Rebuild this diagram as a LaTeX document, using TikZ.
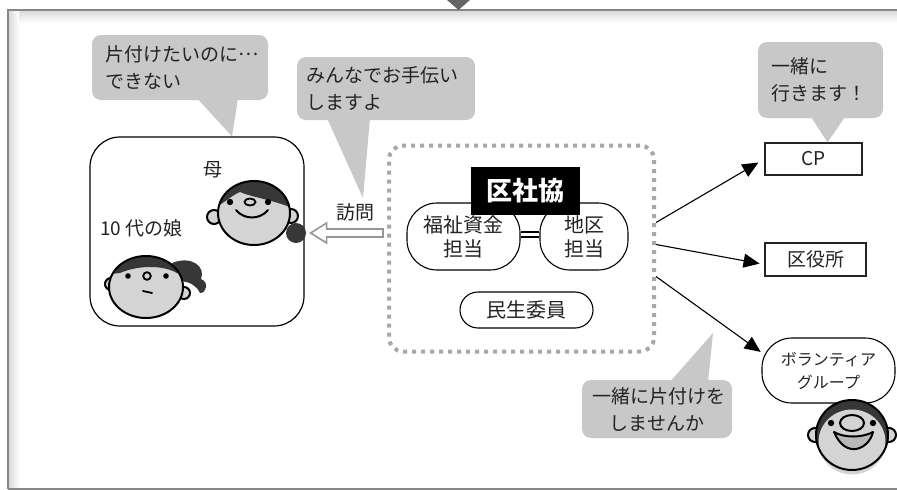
\documentclass[tikz,border=0pt]{standalone}
\usepackage{fontspec}
\setmainfont{Noto Sans CJK JP}
\usepackage{tikz}
\usetikzlibrary{arrows.meta, positioning, calc}

\definecolor{bubblegray}{RGB}{200,200,200}
\definecolor{framegray}{RGB}{135,135,135}
\definecolor{dotgray}{RGB}{168,168,168}
\definecolor{arrowgray}{RGB}{150,150,150}
\definecolor{facegray}{RGB}{212,212,212}
\definecolor{hairgray}{RGB}{55,55,55}
\definecolor{inkgray}{RGB}{35,35,35}

% ellipsis set at mid height
\newcommand{\middots}{\raisebox{0.33em}{…}}

\tikzset{
  talk/.style={rectangle, rounded corners=9pt, fill=bubblegray, text=inkgray,
               align=left, inner xsep=13pt, inner ysep=0pt, font=\fontsize{19}{27}\selectfont},
  pill/.style={rectangle, draw=black, line width=1.1pt, fill=white, text=inkgray,
               align=center, inner sep=0pt, font=\fontsize{20}{24}\selectfont},
  boxed/.style={rectangle, draw=inkgray, line width=1.1pt, fill=white, text=inkgray,
                inner sep=0pt, font=\fontsize{19}{24}\selectfont},
  lbl/.style={text=inkgray, inner sep=0pt, font=\fontsize{19}{24}\selectfont},
  arrow/.style={-{Triangle[length=16pt,width=14pt]}, line width=1.1pt},
  hollow/.style={draw=arrowgray, line width=1.6pt, fill=white, line join=miter},
  tail/.style={fill=bubblegray},
  faceline/.style={draw=black, line width=2pt, fill=facegray},
  hair/.style={fill=hairgray},
}

\begin{document}
\begin{tikzpicture}[x=1pt, y=-1pt]
  \useasboundingbox (0,0) rectangle (897,490);

  % page frame
  \shade[top color=gray!28, bottom color=white] (9,11) rectangle (897,23);
  \shade[left color=gray!28, right color=white] (9,11) rectangle (19,488);
  \draw[framegray, line width=2.5pt] (897,10) -- (8,10) -- (8,489);
  \draw[framegray, line width=1.5pt] (8,489) -- (897,489);
  \fill[framegray!75!black] (447,0) -- (470,0) -- (458.5,10) -- cycle;

  % family
  \node[draw=black, line width=1.2pt, rounded corners=30pt,
        minimum width=214pt, minimum height=189pt] (family) at (197,231.5) {};
  \node[lbl] (mother) at (213,170) {母};
  \node[lbl, anchor=west] (daughter) at (100,228) {10 代の娘};

  % mother
  \begin{scope}[shift={(254,213)}]
    \draw[faceline] (-40,4) circle (7);
    \draw[faceline] (37,3) circle (7);
    \fill[hair] (42,20) circle (10);
    \fill[facegray] (0,0) ellipse (36 and 32);
    \begin{scope}
      \clip (0,0) ellipse (36 and 32);
      \fill[hair] (-45,-2) .. controls (-32,-8) and (-22,-18) .. (-14,-21)
        .. controls (0,-15) and (22,-13) .. (45,-2) -- (45,-45) -- (-45,-45) -- cycle;
    \end{scope}
    \draw[black, line width=2pt] (0,0) ellipse (36 and 32);
    \fill (-24,-11) circle (3.2);
    \fill (14,-11) circle (3.2);
    \draw[line width=1.8pt] (-4,-11) ellipse (5.5 and 3.5);
    \draw[line width=2pt, line cap=round] (-18,-3) .. controls (-10,7) and (6,7) .. (14,-3);
  \end{scope}

  % daughter
  \begin{scope}[shift={(146,287)}]
    \draw[faceline] (-35,-3) circle (6);
    \draw[faceline] (38,6) circle (6);
    \fill[hair] (26,-24) .. controls (46,-32) and (60,-20) .. (55,-8)
      .. controls (63,-5) and (61,6) .. (54,6) .. controls (50,-2) and (44,-5) .. (34,-6) -- cycle;
    \fill[facegray] (0,0) ellipse (37 and 31);
    \begin{scope}
      \clip (0,0) ellipse (37 and 31);
      \fill[hair] (-45,-12) -- (-26,-14) .. controls (-10,-21) and (15,-23) .. (31,-14)
        -- (45,-8) -- (45,-45) -- (-45,-45) -- cycle;
    \end{scope}
    \draw[black, line width=2pt] (0,0) ellipse (37 and 31);
    \fill (-18,-11) circle (2.8);
    \fill (20,-11) circle (2.8);
    \draw[line width=1.8pt] (1,-11) circle (3.8);
    \draw[line width=1.8pt, line cap=round] (-3,4) -- (6,6);
  \end{scope}

  % ward council
  \node[draw=dotgray, line width=4pt, dash pattern=on 4pt off 5pt, rounded corners=14pt,
        minimum width=265pt, minimum height=206pt] (org) at (521.5,248.5) {};
  \node[pill, minimum width=113pt, minimum height=67pt, rounded corners=30pt]
    (fukushi) at (463.5,236.5) {福祉資金\\担当};
  \node[pill, minimum width=88pt, minimum height=67pt, rounded corners=30pt]
    (chiku) at (584,236.5) {地区\\担当};
  \draw[double, double distance=3pt, line width=1.6pt]
    ([yshift=2pt]fukushi.east) -- ([yshift=2pt]chiku.west);
  \node[fill=black, text=white, inner sep=0pt, font=\fontsize{26}{26}\selectfont\bfseries,
        minimum width=109pt, minimum height=48pt] (kushakyo) at (525.5,191) {区社協};
  \node[pill, minimum width=133pt, minimum height=36pt, rounded corners=18pt]
    (minsei) at (526.5,310) {民生委員};

  % visit arrow
  \draw[hollow] ($(family.east)+(6,1.5)$) coordinate (vtip) -- ++(16,-10) -- ++(0,6)
    -- ($(org.west |- vtip)+(-4,-4)$) -- ++(0,8) -- ($(vtip)+(16,4)$) -- ++(0,6) -- cycle;
  \node[lbl] (visitlbl) at (355,212) {訪問};

  % partners
  \node[boxed, minimum width=97pt, minimum height=32pt] (cp) at (813.5,159) {CP};
  \node[boxed, minimum width=101pt, minimum height=33pt] (kuyaku) at (815.5,259.5) {区役所};
  \node[pill, font=\fontsize{16}{23}\selectfont, minimum width=133pt, minimum height=65pt,
        rounded corners=30pt] (vol) at (828.5,370.5) {ボランティア\\グループ};

  \draw[arrow, shorten >=7pt] ([yshift=26pt]org.east) -- (cp.west);
  \draw[arrow, shorten >=5pt] ([yshift=4pt]org.east) -- ([yshift=-5pt]kuyaku.west);
  \draw[arrow, shorten >=1pt] ([yshift=-28pt]org.east) -- ([yshift=18pt]vol.west);

  % volunteer
  \begin{scope}[shift={(852,435)}]
    \draw[faceline] (-37,0) circle (7);
    \draw[faceline] (37,0) circle (7);
    \fill[hair] (0,0) ellipse (36 and 35);
    \fill[facegray] (0,7) ellipse (33.5 and 32.5);
    \draw[black, line width=2pt] (0,0) ellipse (36 and 35);
    \fill (-21,-12) circle (3.2);
    \fill (21,-12) circle (3.2);
    \draw[faceline, fill=gray!55, line join=round] (-18,-3) .. controls (-8,3) and (10,3) .. (21,-3)
      .. controls (17,14) and (-6,25) .. (-18,-3) -- cycle;
    \draw[faceline] (0,-12) ellipse (12 and 8);
  \end{scope}

  % speech bubbles
  \node[talk, text width=150pt, minimum height=65pt] (talk1) at (180,67.5)
    {片付けたいのに\middots\\できない};
  \fill[tail] ([shift={(17pt,2pt)}]talk1.south) -- ([xshift=35pt]family.north)
    -- ([shift={(58pt,2pt)}]talk1.south) -- cycle;

  \node[talk, text width=160pt, inner xsep=9pt, minimum height=63pt] (talk2) at (386,88.5)
    {みんなでお手伝い\\しますよ};
  \fill[tail] ([shift={(-59pt,2pt)}]talk2.south) -- ([shift={(8pt,5pt)}]visitlbl.north)
    -- ([shift={(-16pt,2pt)}]talk2.south) -- cycle;

  \node[talk, text width=99pt, minimum height=76pt] (talk3) at (820.5,80)
    {一緒に\\行きます！};
  \fill[tail] ([shift={(-10pt,2pt)}]talk3.south) -- ([xshift=14pt]cp.north)
    -- ([shift={(25pt,2pt)}]talk3.south) -- cycle;

  \coordinate (hint) at (713,333);
  \node[talk, align=center, text width=130pt, inner xsep=10pt, minimum height=58pt]
    (talk4) at (657,409) {一緒に片付けを\\しませんか};
  \fill[tail] ([shift={(13pt,-2pt)}]talk4.north) -- (hint)
    -- ([shift={(51pt,-2pt)}]talk4.north) -- cycle;
\end{tikzpicture}
\end{document}
